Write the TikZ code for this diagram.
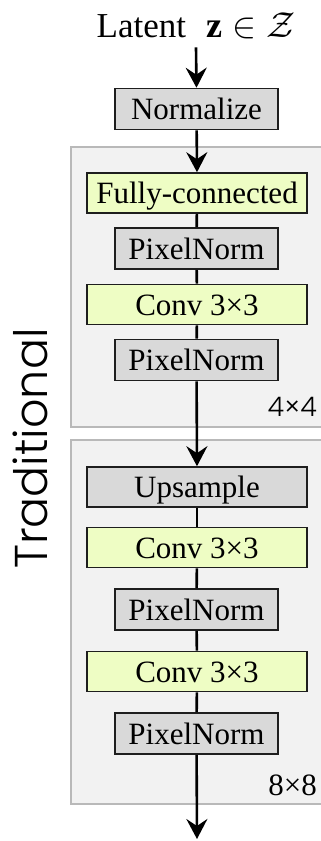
\documentclass[tikz,border=0pt]{standalone}
\usepackage{graphicx}
\usepackage{fontspec}
\setmainfont{Liberation Serif}
\newfontfamily\tradfont{Poppins Light}
\usetikzlibrary{arrows.meta}
\definecolor{boxgray}{RGB}{217,217,217}
\definecolor{boxgreen}{RGB}{238,253,196}
\definecolor{grpfill}{RGB}{242,242,242}
\definecolor{grpline}{RGB}{185,185,185}
\definecolor{edgecol}{RGB}{30,30,30}
\tikzset{
  blk/.style={draw=edgecol, line width=1.6pt, inner sep=0pt, text height=21pt, text depth=0pt,
    font=\fontsize{31}{36}\selectfont, minimum height=41pt},
  narrowbox/.style={blk, fill=boxgray, minimum width=163pt},
  widegray/.style={blk, fill=boxgray, minimum width=220pt, minimum height=40pt},
  widegreen/.style={blk, fill=boxgreen, minimum width=220pt, minimum height=40pt},
  grp/.style={fill=grpfill, draw=grpline, line width=1.5pt},
  flow/.style={line width=2.6pt, -{Stealth[length=20pt, width=21pt, inset=7pt]}},
  link/.style={line width=2.6pt},
}
\begin{document}
\begin{tikzpicture}[x=1pt, y=-1pt]
\useasboundingbox (0,0) rectangle (321,841);
\clip (0,0) rectangle (321,841);
% groups
\draw[grp] (71,147) rectangle (340,427);
\draw[grp] (71,440) rectangle (340,804);
% title
\node[anchor=base, inner sep=0pt, outer ysep=9pt, font=\fontsize{35}{40}\selectfont] (title) at (196,37)
  {Latent\hspace{20pt}\scalebox{1.45}{\fontsize{24.88}{30}\selectfont$\mathbf{z}\in\mathcal{Z}$}};
% boxes
\node[narrowbox] (norm) at (196.5,109) {Normalize};
\node[widegreen] (fc) at (197,193) {Fully-connected};
\node[narrowbox] (pn1) at (196.5,248.5) {PixelNorm};
\node[widegreen] (c1) at (197,304.5) {Conv 3×3};
\node[narrowbox] (pn2) at (196.5,360) {PixelNorm};
\node[widegray] (up) at (197,487) {Upsample};
\node[widegreen] (c2) at (197,547.5) {Conv 3×3};
\node[narrowbox] (pn3) at (196.5,609.5) {PixelNorm};
\node[widegreen] (c3) at (197,671.5) {Conv 3×3};
\node[narrowbox] (pn4) at (196.5,733.5) {PixelNorm};
% labels
\node[anchor=base east, inner sep=0pt, font=\tradfont\fontsize{27}{30}\selectfont] (l4) at (317,416) {4×4};
\node[anchor=base east, inner sep=0pt, font=\fontsize{31}{36}\selectfont] (l8) at (317,795) {8×8};
\node[rotate=90, inner sep=0pt, font=\tradfont\fontsize{46}{50}\selectfont] (trad) at (30.5,448.5) {Traditional};
\coordinate (out) at (197,839);
% connectors
\draw[flow] (title.south) -- (norm.north);
\draw[flow] (norm) -- (fc.north);
\draw[link] (fc) -- (pn1);
\draw[link] (pn1) -- (c1);
\draw[link] (c1) -- (pn2);
\draw[flow] (pn2) -- (up.north);
\draw[link] (up) -- (c2);
\draw[link] (c2) -- (pn3);
\draw[link] (pn3) -- (c3);
\draw[link] (c3) -- (pn4);
\draw[flow] (pn4) -- (out);
\end{tikzpicture}
\end{document}
